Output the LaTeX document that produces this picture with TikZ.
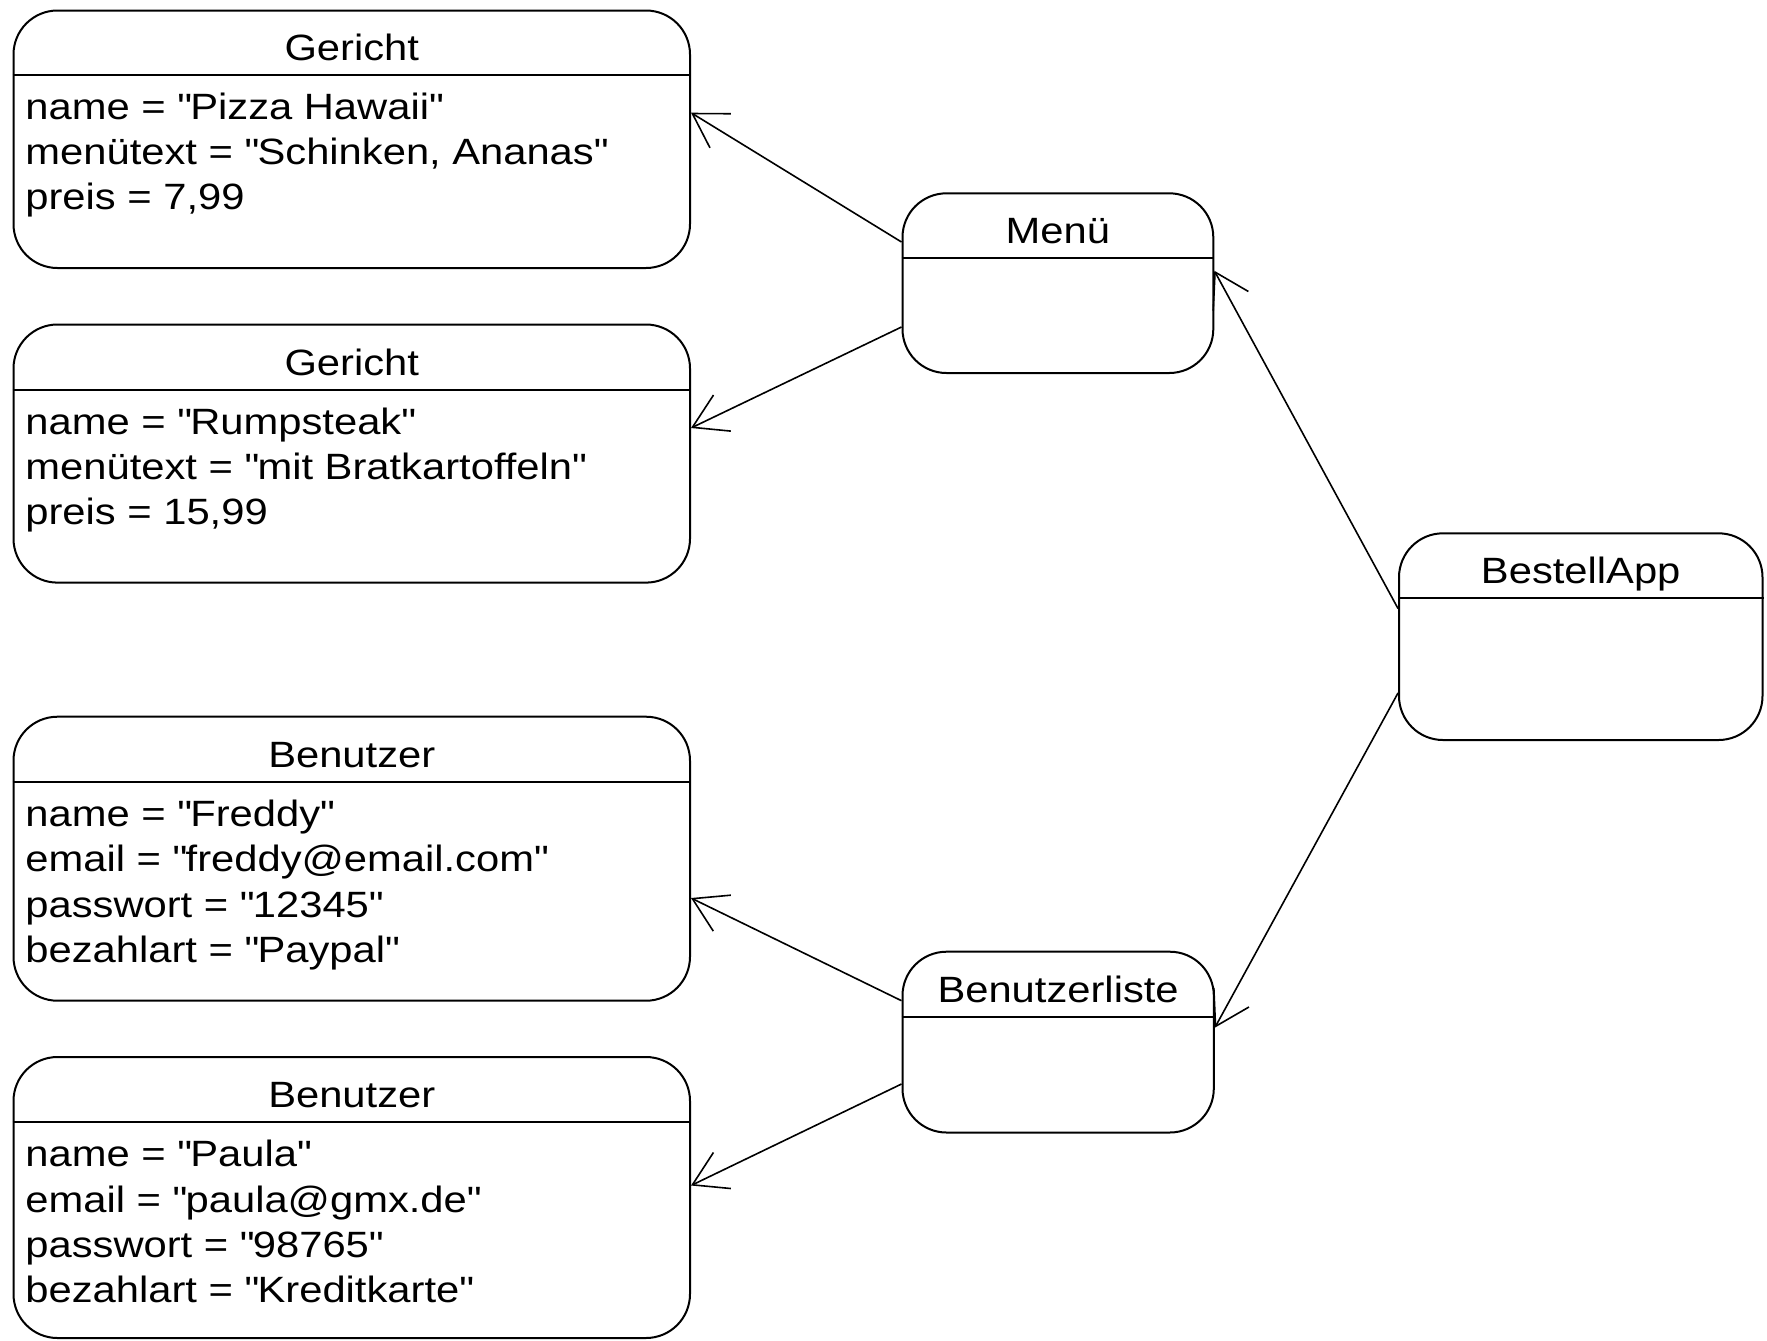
\documentclass[tikz,border=0pt]{standalone}
\usepackage{fontspec}
\setmainfont{Liberation Sans}[FakeStretch=1.14]
\usetikzlibrary{arrows.meta,fit}
\newcommand\qmark{\textquotedbl}
\begin{document}
\begin{tikzpicture}[x=0.5pt,y=-0.5pt,
  obj/.style={draw, line width=1pt, rounded corners=22pt, inner sep=0pt},
  sep/.style={line width=1pt},
  title/.style={font=\fontsize{18.3}{22}\selectfont, inner sep=0pt, anchor=base},
  attr/.style={font=\fontsize{18.3}{22}\selectfont, anchor=base west, inner sep=0pt},
  link/.style={line width=0.8pt, -{Straight Barb[length=16.5pt,width=20pt]}}]
\useasboundingbox (0,0) rectangle (1767,1340);
% Gericht 1
\node[obj, fit={(13.5,10.5)(690,268)}] (g1) {};
\draw[sep] (g1.west |- 0,74.5) -- (g1.east |- 0,74.5);
\node[title] (g1t) at (351.75,60) {Gericht};
\node[attr] (g1a) at (25,119) {name = \qmark Pizza Hawaii\qmark};
\node[attr] (g1b) at (25,164.3) {menütext = \qmark Schinken, Ananas\qmark};
\node[attr] (g1c) at (25,209.6) {preis = 7,99};
% Gericht 2
\node[obj, fit={(13.5,324.5)(690,582.6)}] (g2) {};
\draw[sep] (g2.west |- 0,389.5) -- (g2.east |- 0,389.5);
\node[title] (g2t) at (351.75,375) {Gericht};
\node[attr] (g2a) at (25,434) {name = \qmark Rumpsteak\qmark};
\node[attr] (g2b) at (25,479.3) {menütext = \qmark mit Bratkartoffeln\qmark};
\node[attr] (g2c) at (25,524.6) {preis = 15,99};
% Benutzer 1
\node[obj, fit={(13.5,716.7)(690,1000.7)}] (b1) {};
\draw[sep] (b1.west |- 0,781.7) -- (b1.east |- 0,781.7);
\node[title] (b1t) at (351.75,767) {Benutzer};
\node[attr] (b1a) at (25,826.4) {name = \qmark Freddy\qmark};
\node[attr] (b1b) at (25,871.7) {email = \qmark freddy@email.com\qmark};
\node[attr] (b1c) at (25,917) {passwort = \qmark 12345\qmark};
\node[attr] (b1d) at (25,962.3) {bezahlart = \qmark Paypal\qmark};
% Benutzer 2
\node[obj, fit={(13.5,1057)(690,1338)}] (b2) {};
\draw[sep] (b2.west |- 0,1122) -- (b2.east |- 0,1122);
\node[title] (b2t) at (351.75,1107.5) {Benutzer};
\node[attr] (b2a) at (25,1166.7) {name = \qmark Paula\qmark};
\node[attr] (b2b) at (25,1212) {email = \qmark paula@gmx.de\qmark};
\node[attr] (b2c) at (25,1257.3) {passwort = \qmark 98765\qmark};
\node[attr] (b2d) at (25,1302.6) {bezahlart = \qmark Kreditkarte\qmark};
% Menü
\node[obj, fit={(902.5,193.3)(1213.3,373)}] (menu) {};
\draw[sep] (menu.west |- 0,258.3) -- (menu.east |- 0,258.3);
\node[title] (menut) at (1057.9,243.6) {Menü};
% Benutzerliste
\node[obj, fit={(902.5,951.7)(1213.8,1132.5)}] (bl) {};
\draw[sep] (bl.west |- 0,1017.3) -- (bl.east |- 0,1017.3);
\node[title] (blt) at (1058.1,1002.6) {Benutzerliste};
% BestellApp
\node[obj, fit={(1399,533.3)(1762.5,740)}] (app) {};
\draw[sep] (app.west |- 0,597.8) -- (app.east |- 0,597.8);
\node[title] (appt) at (1580.7,583) {BestellApp};
% connectors
\draw[link] (menu.west |- 0,242) -- (g1.east |- 0,112.7);
\draw[link] (menu.west |- 0,327) -- (g2.east |- 0,428);
\draw[link] (app.west |- 0,608.5) -- (menu.east |- 0,270.7);
\draw[link] (app.west |- 0,693) -- (bl.east |- 0,1027.7);
\draw[link] (bl.west |- 0,1000.7) -- (b1.east |- 0,898);
\draw[link] (bl.west |- 0,1084) -- (b2.east |- 0,1185.5);
\end{tikzpicture}
\end{document}
